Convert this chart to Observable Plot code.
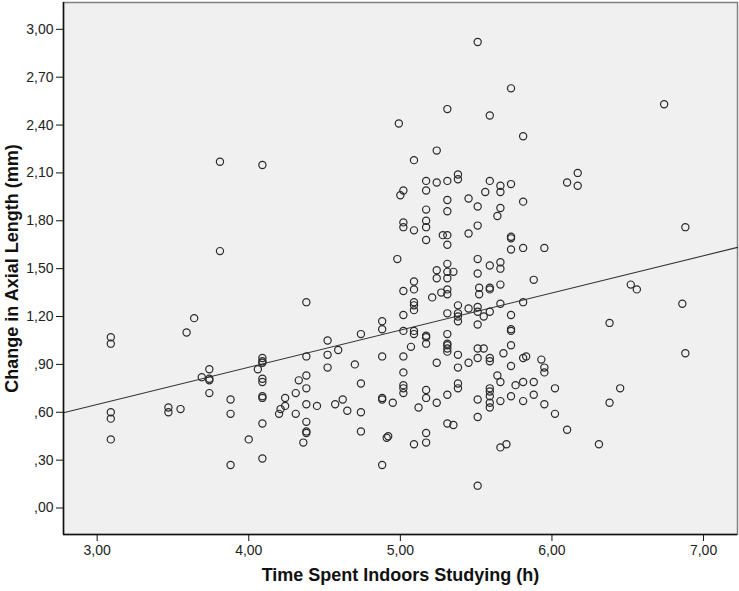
<!DOCTYPE html>
<html>
<head>
<meta charset="utf-8">
<script src="https://cdn.jsdelivr.net/npm/d3@7"></script>
<script src="https://cdn.jsdelivr.net/npm/@observablehq/plot@0.6"></script>
<style>
  html, body { margin: 0; padding: 0; background: #fff; }
</style>
</head>
<body>
<div id="chart"></div>
<script>
// Data
const timeStudying = [
  3.09,3.09,3.09,3.09,3.09,3.47,3.47,3.55,3.59,3.64,3.69,3.74,3.74,3.74,3.74,3.81,3.81,3.88,3.88,3.88,
  4.00,4.06,4.09,4.09,4.09,4.09,4.09,4.09,4.09,4.09,4.09,4.09,4.20,4.21,4.24,4.24,4.31,4.31,4.33,4.36,
  4.38,4.38,4.38,4.38,4.38,4.38,4.38,4.38,4.45,4.52,4.52,4.52,4.57,4.59,4.62,4.65,4.70,4.74,4.74,4.74,4.74,
  5.51,5.31,4.99,5.24,5.09,5.38,5.38,5.17,5.24,5.31,5.02,5.00,5.17,5.31,5.45,5.51,5.17,5.31,5.02,5.02,
  5.09,5.17,5.17,5.17,5.28,5.31,5.31,5.45,5.51,4.98,5.24,5.31,5.31,5.35,5.51,5.51,5.09,5.24,5.31,5.31,
  5.31,5.09,5.02,5.27,5.21,5.09,5.09,5.09,5.02,5.38,5.45,5.51,5.51,5.31,5.38,5.38,5.38,5.51,4.88,4.88,
  5.02,5.09,5.09,5.17,5.17,5.17,5.07,5.31,5.31,5.31,5.31,5.31,5.38,5.51,4.88,5.02,5.24,5.45,5.38,5.51,
  5.02,5.02,5.02,5.02,5.38,5.38,5.17,5.17,5.31,4.88,4.88,4.95,5.24,5.12,5.51,5.51,5.31,5.35,5.17,5.17,
  4.91,4.92,5.09,4.88,5.51,
  5.73,5.59,5.81,6.17,6.10,6.17,5.59,5.66,5.66,5.73,5.56,5.66,5.64,5.81,5.73,5.73,5.73,5.81,5.95,5.59,
  5.66,5.66,5.88,5.52,5.52,5.59,5.59,5.66,5.59,5.55,5.66,5.81,5.73,5.73,5.73,5.73,5.55,5.59,5.59,5.68,
  5.73,5.81,5.83,5.93,5.95,5.95,5.64,5.66,5.76,5.81,5.88,6.02,5.59,5.59,5.59,5.59,5.59,5.66,5.73,5.81,
  5.88,5.95,6.02,6.10,5.66,5.70,
  6.74,6.88,6.52,6.56,6.86,6.38,6.88,6.45,6.38,6.31
];
const axialChange = [
  1.07,1.03,0.60,0.56,0.43,0.63,0.60,0.62,1.10,1.19,0.82,0.87,0.81,0.80,0.72,2.17,1.61,0.68,0.59,0.27,
  0.43,0.87,0.94,0.92,0.91,0.81,0.79,0.69,0.70,0.53,0.31,2.15,0.59,0.62,0.64,0.69,0.72,0.59,0.80,0.41,
  1.29,0.95,0.83,0.75,0.65,0.54,0.48,0.47,0.64,1.05,0.96,0.88,0.65,0.99,0.68,0.61,0.90,1.09,0.78,0.60,0.48,
  2.92,2.50,2.41,2.24,2.18,2.09,2.06,2.05,2.04,2.05,1.99,1.96,1.99,1.93,1.94,1.89,1.87,1.86,1.79,1.76,
  1.74,1.80,1.76,1.68,1.71,1.71,1.65,1.72,1.77,1.56,1.49,1.53,1.48,1.48,1.56,1.47,1.42,1.44,1.44,1.37,
  1.34,1.37,1.36,1.35,1.32,1.29,1.27,1.24,1.21,1.27,1.25,1.26,1.23,1.22,1.22,1.20,1.17,1.15,1.17,1.12,
  1.11,1.11,1.09,1.08,1.07,1.03,1.01,1.09,1.03,1.02,1.00,0.98,0.96,1.00,0.95,0.95,0.91,0.91,0.88,0.94,
  0.85,0.77,0.75,0.72,0.78,0.75,0.74,0.69,0.71,0.68,0.69,0.66,0.66,0.63,0.68,0.57,0.53,0.52,0.47,0.41,
  0.44,0.45,0.40,0.27,0.14,
  2.63,2.46,2.33,2.10,2.04,2.02,2.05,2.02,1.98,2.03,1.98,1.88,1.83,1.92,1.70,1.69,1.62,1.63,1.63,1.52,
  1.54,1.50,1.43,1.38,1.34,1.38,1.37,1.40,1.23,1.20,1.28,1.29,1.21,1.12,1.11,1.02,1.00,0.94,0.92,0.97,
  0.89,0.94,0.95,0.93,0.88,0.85,0.83,0.79,0.77,0.79,0.79,0.75,0.75,0.73,0.70,0.66,0.63,0.67,0.70,0.67,
  0.71,0.65,0.59,0.49,0.38,0.40,
  2.53,1.76,1.40,1.37,1.28,1.16,0.97,0.75,0.66,0.40
];

// Fit line coefficients
const fitIntercept = [-0.050];
const fitSlope = [0.233];

// Axes
const xDomain = [2.778, 7.224];
const yDomain = [-0.166, 3.168];
const xTicks = [3, 4, 5, 6, 7];
const xTickLabels = ["3,00", "4,00", "5,00", "6,00", "7,00"];
const yTicks = [0, 0.3, 0.6, 0.9, 1.2, 1.5, 1.8, 2.1, 2.4, 2.7, 3.0];
const yTickLabels = [",00", ",30", ",60", ",90", "1,20", "1,50", "1,80", "2,10", "2,40", "2,70", "3,00"];
const xTitle = ["Time Spent Indoors Studying (h)"];
const yTitle = ["Change in Axial Length (mm)"];

const points = timeStudying.map((t, i) => ({t, a: axialChange[i]}));
const fitLine = xDomain.map(x => ({x, y: fitIntercept[0] + fitSlope[0] * x}));

const chart = Plot.plot({
  width: 739,
  height: 591,
  marginLeft: 63,
  marginRight: 2,
  marginTop: 2,
  marginBottom: 57,
  style: {fontFamily: "'Liberation Sans', Arial, sans-serif", fontSize: "14px", color: "#222", background: "#fff"},
  x: {domain: xDomain},
  y: {domain: yDomain},
  marks: [
    Plot.frame({fill: "#f0f0f0", stroke: "#808080", strokeWidth: 1.5}),
    Plot.line(fitLine, {x: "x", y: "y", stroke: "#333", strokeWidth: 1.1}),
    Plot.dot(points, {x: "t", y: "a", r: 3.6, fill: "none", stroke: "#2a2a2a", strokeWidth: 1.2}),
    Plot.ruleX([xDomain[0]], {stroke: "#111", strokeWidth: 1.5}),
    Plot.ruleY([yDomain[0]], {stroke: "#111", strokeWidth: 1.5}),
    Plot.axisX({ticks: xTicks, tickFormat: d => xTickLabels[xTicks.indexOf(d)], tickSize: 7, tickPadding: 4,
      stroke: "#111", label: null}),
    Plot.axisY({ticks: yTicks, tickFormat: d => yTickLabels[yTicks.indexOf(d)], tickSize: 7, tickPadding: 3,
      stroke: "#111", label: null}),
    Plot.text(xTitle, {text: d => d, frameAnchor: "bottom", textAnchor: "middle", dy: 46, fontSize: 18, fontWeight: "bold", fill: "#111"}),
    Plot.text(yTitle, {text: d => d, frameAnchor: "left", textAnchor: "middle", dx: -51, rotate: -90, fontSize: 18, fontWeight: "bold", fill: "#111"})
  ]
});
document.getElementById("chart").appendChild(chart);
</script>
</body>
</html>
